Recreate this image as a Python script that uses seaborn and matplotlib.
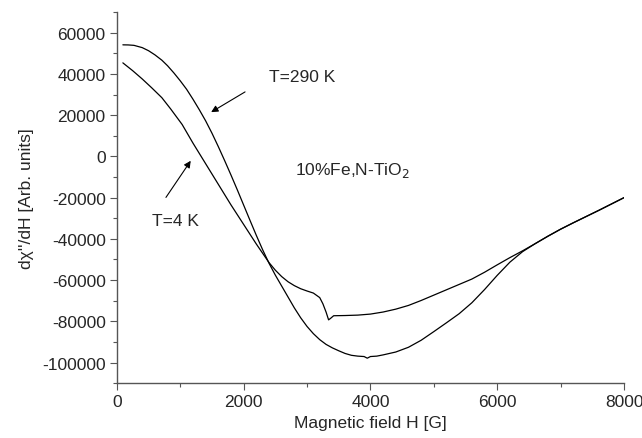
import numpy as np
import pandas as pd
import matplotlib
matplotlib.use("Agg")
import matplotlib.pyplot as plt
import seaborn as sns

# T = 290 K curve
h_290 = [95, 180, 270, 400, 500, 600, 710, 800, 900, 1000, 1100, 1200, 1300, 1400, 1500, 1600,
         1700, 1800, 1900, 2000, 2100, 2200, 2300, 2400, 2500, 2600, 2700, 2800, 2900, 3000,
         3100, 3200, 3300, 3400, 3500, 3600, 3700, 3800, 3900, 3950, 4000, 4100, 4200, 4400,
         4600, 4800, 5000, 5200, 5400, 5600, 5800, 6000, 6200, 6400, 6600, 6800, 7000, 7200,
         7400, 7600, 7800, 8000]
s_290 = [54150, 54100, 53900, 52800, 51300, 49300, 46700, 44000, 40500, 36700, 32600, 27800,
         22700, 17300, 11300, 4800, -2000, -9000, -16200, -23600, -31000, -38300, -45300,
         -51800, -57600, -62900, -68200, -73500, -78300, -82500, -86000, -88900, -91200, -92900,
         -94300, -95600, -96500, -96900, -97100, -97900, -97100, -96900, -96300, -94900, -92600,
         -89200, -85000, -80700, -76300, -71000, -64600, -57700, -51300, -46200, -42300, -38700,
         -35300, -32200, -29200, -26200, -23100, -20000]

# T = 4 K curve
h_4 = [95, 250, 400, 550, 710, 850, 1030, 1200, 1400, 1600, 1800, 2000, 2200, 2300, 2400,
       2500, 2600, 2700, 2800, 2900, 3000, 3100, 3200, 3250, 3300, 3340, 3370, 3420, 3600,
       3800, 4000, 4200, 4400, 4600, 4800, 5000, 5200, 5400, 5600, 5800, 6000, 6200, 6400,
       6600, 6800, 7000, 7200, 7400, 7600, 7800, 8000]
s_4 = [45400, 41600, 37600, 33300, 28500, 23000, 15500, 6500, -3500, -13500, -23500, -33000,
       -42500, -47000, -51500, -55200, -58300, -60800, -62700, -64200, -65300, -66300, -68500,
       -71500, -75500, -79300, -78600, -77300, -77200, -77000, -76500, -75500, -74100, -72300,
       -69900, -67300, -64700, -62100, -59500, -56200, -52600, -49100, -45800, -42300, -38700,
       -35300, -32200, -29200, -26200, -23100, -20000]

x_ticks = [0, 2000, 4000, 6000, 8000]
y_ticks = [-100000, -80000, -60000, -40000, -20000, 0, 20000, 40000, 60000]

sns.set_style("ticks")
plt.rcParams['font.family'] = ['Liberation Sans', 'DejaVu Sans']
plt.rcParams['axes.unicode_minus'] = False

FS = 12.5

fig = plt.figure(figsize=(6.42, 4.39), dpi=100)
ax = fig.add_axes([0.182, 0.125, 0.790, 0.845])

df290 = pd.DataFrame({"H": h_290, "S": s_290})
df4 = pd.DataFrame({"H": h_4, "S": s_4})
sns.lineplot(data=df290, x="H", y="S", ax=ax, color="black", lw=0.9, sort=False)
sns.lineplot(data=df4, x="H", y="S", ax=ax, color="black", lw=0.9, sort=False)

ax.set_xlim(0, 8000)
ax.set_ylim(-110000, 70000)
ax.set_xticks(x_ticks)
ax.set_yticks(y_ticks)
ax.set_xticks(np.arange(1000, 8000, 2000), minor=True)
ax.set_yticks(np.arange(-110000, 70001, 20000), minor=True)
ax.tick_params(which='major', direction='out', length=5, width=0.8, color='#555555',
               labelsize=FS, pad=3)
ax.tick_params(which='minor', direction='out', length=3, width=0.8, color='#555555')
for sp in ['top', 'right']:
    ax.spines[sp].set_visible(False)
for sp in ['left', 'bottom']:
    ax.spines[sp].set_color('#555555')
    ax.spines[sp].set_linewidth(1.0)

ax.set_xlabel("Magnetic field H [G]", fontsize=FS, labelpad=4)
ax.set_ylabel("dχ''/dH [Arb. units]", fontsize=FS, labelpad=6)

ax.annotate("", xy=(1450, 20800), xytext=(2060, 32000),
            arrowprops=dict(arrowstyle="-|>", color="black", lw=0.8, mutation_scale=10))
ax.text(2400, 39000, "T=290 K", fontsize=FS, va="center", ha="left")
ax.annotate("", xy=(1190, -1000), xytext=(750, -21000),
            arrowprops=dict(arrowstyle="-|>", color="black", lw=0.8, mutation_scale=10))
ax.text(550, -31200, "T=4 K", fontsize=FS, va="center", ha="left")
ax.text(2810, -6300, r"10%Fe,N-TiO$_2$", fontsize=FS, va="center", ha="left")

fig.savefig("out.png", dpi=100)
